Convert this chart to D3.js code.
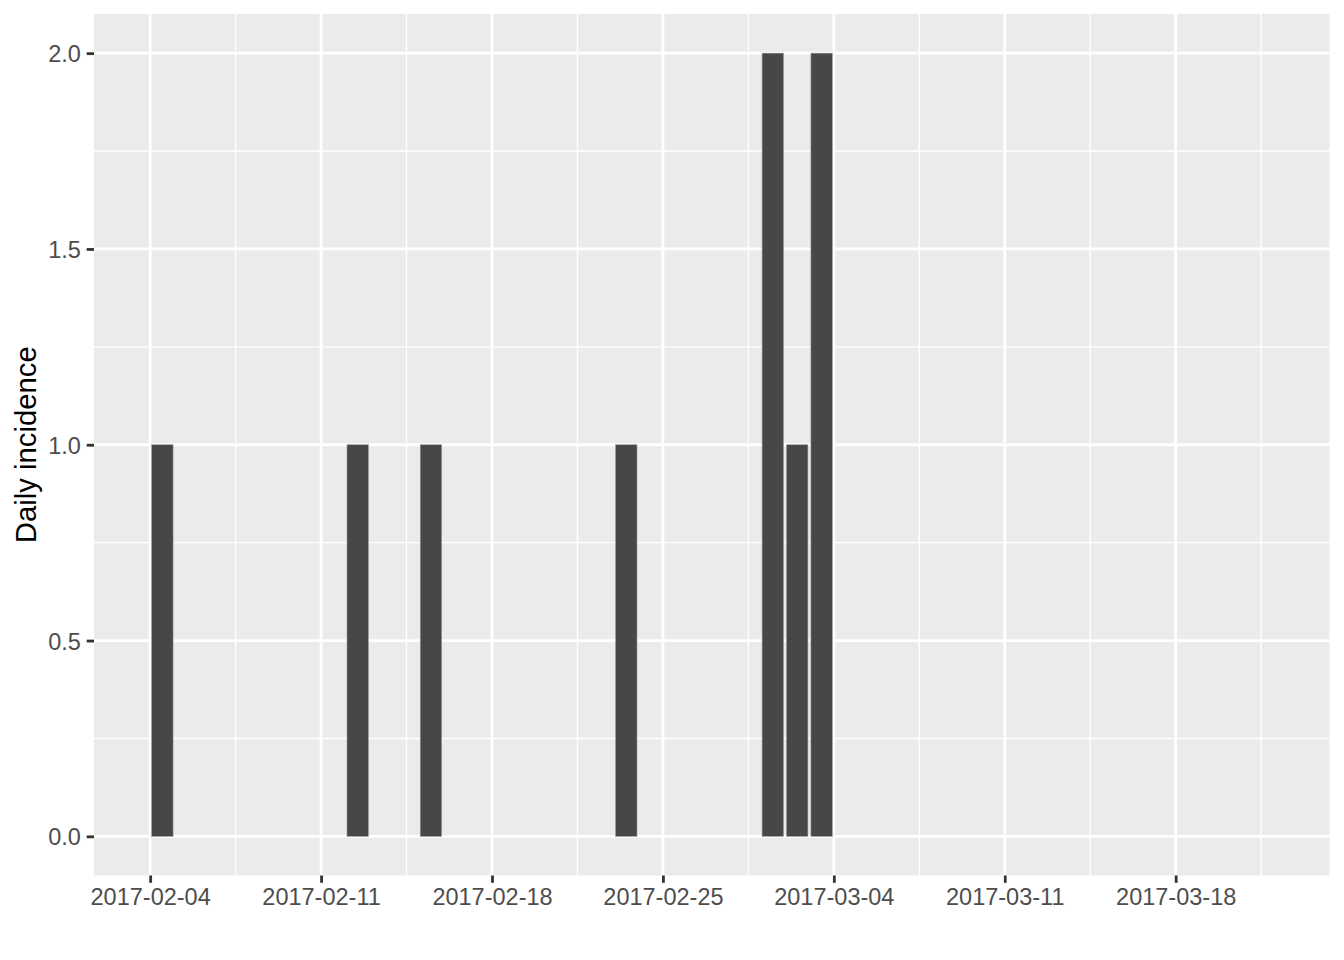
<!DOCTYPE html>
<html>
<head>
<meta charset="utf-8">
<script src="https://cdn.jsdelivr.net/npm/d3@7"></script>
<style>
  html, body { margin: 0; padding: 0; background: #ffffff; }
  svg { display: block; font-family: "Liberation Sans", Arial, Helvetica, sans-serif; }
</style>
</head>
<body>
<svg id="chart" width="1344" height="960"></svg>
<script>
// ---- data ----
const dates = ["2017-02-04", "2017-02-12", "2017-02-15", "2017-02-23", "2017-03-01", "2017-03-02", "2017-03-03"];
const counts = [1, 1, 1, 1, 2, 1, 2];
const dateRange = ["2017-02-04", "2017-03-22"];
const xTickLabels = ["2017-02-04", "2017-02-11", "2017-02-18", "2017-02-25", "2017-03-04", "2017-03-11", "2017-03-18"];
const yTicks = [0, 0.5, 1.0, 1.5, 2.0];
const yMinor = [0.25, 0.75, 1.25, 1.75];
const yTitle = "Daily incidence";

// ---- layout ----
const parse = d3.utcParse("%Y-%m-%d");
const DAY = 864e5;
const panel = { left: 94, right: 1329.5, top: 14, bottom: 875.5 };
const svg = d3.select("#chart");

const d0 = parse(dateRange[0]), d1 = parse(dateRange[1]);
const span = d1 - d0;
const x = d3.scaleUtc()
  .domain([new Date(+d0 - span * 0.05), new Date(+d1 + span * 0.05)])
  .range([panel.left, panel.right]);
const y = d3.scaleLinear()
  .domain([-0.1, 2.1])
  .range([panel.bottom, panel.top]);

const xMajor = xTickLabels.map(parse);
const xMinorT = xMajor.map(d => new Date(+d + 3.5 * DAY)).filter(d => x(d) < panel.right);

// panel background
svg.append("rect")
  .attr("x", panel.left).attr("y", panel.top)
  .attr("width", panel.right - panel.left).attr("height", panel.bottom - panel.top)
  .attr("fill", "#EBEBEB");

const grid = svg.append("g");
// minor grid
grid.selectAll(".ymin").data(yMinor).enter().append("line")
  .attr("x1", panel.left).attr("x2", panel.right)
  .attr("y1", d => y(d)).attr("y2", d => y(d))
  .attr("stroke", "#fff").attr("stroke-width", 1.4);
grid.selectAll(".xmin").data(xMinorT).enter().append("line")
  .attr("y1", panel.top).attr("y2", panel.bottom)
  .attr("x1", d => x(d)).attr("x2", d => x(d))
  .attr("stroke", "#fff").attr("stroke-width", 1.4);
// major grid
grid.selectAll(".ymaj").data(yTicks).enter().append("line")
  .attr("x1", panel.left).attr("x2", panel.right)
  .attr("y1", d => y(d)).attr("y2", d => y(d))
  .attr("stroke", "#fff").attr("stroke-width", 2.8);
grid.selectAll(".xmaj").data(xMajor).enter().append("line")
  .attr("y1", panel.top).attr("y2", panel.bottom)
  .attr("x1", d => x(d)).attr("x2", d => x(d))
  .attr("stroke", "#fff").attr("stroke-width", 2.8);

// bars
const bars = dates.map((d, i) => ({ date: parse(d), n: counts[i] }));
svg.append("g").selectAll("rect").data(bars).enter().append("rect")
  .attr("x", d => x(d.date) + 1.5)
  .attr("width", d => x(new Date(+d.date + DAY)) - x(d.date) - 3)
  .attr("y", d => y(d.n))
  .attr("height", d => y(0) - y(d.n))
  .attr("fill", "#474747")
  .attr("stroke", "#9a9a9a")
  .attr("stroke-width", 0.6);

// x axis
const xAxis = d3.axisBottom(x)
  .tickValues(xMajor)
  .tickFormat((d, i) => xTickLabels[i])
  .tickSize(7.3)
  .tickPadding(5.9);
const gx = svg.append("g").attr("transform", `translate(0,${panel.bottom})`).call(xAxis);
gx.select(".domain").remove();
gx.selectAll(".tick line").attr("stroke", "#333333").attr("stroke-width", 2.8);
gx.selectAll(".tick text")
  .attr("fill", "#4D4D4D")
  .style("font-size", "23.5px")
  .style("font-family", '"Liberation Sans", Arial, sans-serif')
  .attr("dy", "0.71em");

// y axis
const yAxis = d3.axisLeft(y)
  .tickValues(yTicks)
  .tickFormat(d3.format(".1f"))
  .tickSize(7.3)
  .tickPadding(5.9);
const gy = svg.append("g").attr("transform", `translate(${panel.left},0)`).call(yAxis);
gy.select(".domain").remove();
gy.selectAll(".tick line").attr("stroke", "#333333").attr("stroke-width", 2.8);
gy.selectAll(".tick text")
  .attr("fill", "#4D4D4D")
  .style("font-size", "23.5px")
  .style("font-family", '"Liberation Sans", Arial, sans-serif')
  .attr("dy", "0.36em");

// y title
svg.append("text")
  .attr("transform", `translate(36,${(panel.top + panel.bottom) / 2}) rotate(-90)`)
  .attr("text-anchor", "middle")
  .attr("fill", "#000")
  .style("font-size", "29.3px")
  .text(yTitle);
</script>
</body>
</html>
